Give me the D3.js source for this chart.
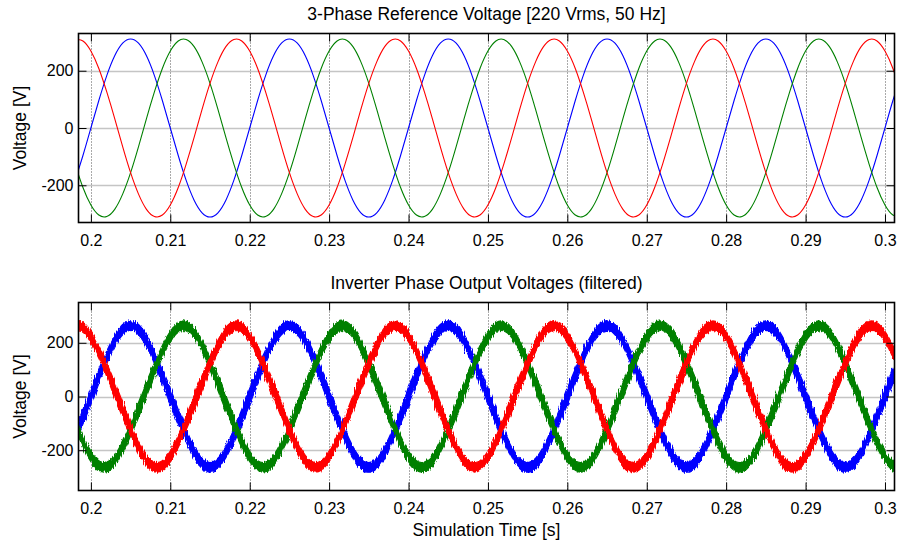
<!DOCTYPE html>
<html>
<head>
<meta charset="utf-8">
<script src="https://cdn.jsdelivr.net/npm/d3@7"></script>
<style>
  html, body { margin: 0; padding: 0; background: #fff; }
  svg { display: block; }
  text { font-family: "Liberation Sans", Arial, Helvetica, sans-serif; fill: #000; }
</style>
</head>
<body>
<svg id="chart" width="900" height="544"></svg>
<script>
// Sampling grid of the simulation traces (seconds)
const sampleStart = 0.198;
const sampleStep = 0.001;

// Axis ticks
const timeTicks = [0.2, 0.21, 0.22, 0.23, 0.24, 0.25, 0.26, 0.27, 0.28, 0.29, 0.3];
const voltTicks = [-200, 0, 200];

// Panel titles and labels
const panelTitles = ["3-Phase Reference Voltage [220 Vrms, 50 Hz]", "Inverter Phase Output Voltages (filtered)"];
const yLabel = "Voltage [V]";
const xLabel = "Simulation Time [s]";

// Reference voltages, phases a (blue), b (green), c (red) [V]
const refA = [
  -183,-96,0,96,183,252,296,311,296,252,183,96,0,-96,-183,-252,-296,-311,-296,-252,
  -183,-96,0,96,183,252,296,311,296,252,183,96,0,-96,-183,-252,-296,-311,-296,-252,
  -183,-96,0,96,183,252,296,311,296,252,183,96,0,-96,-183,-252,-296,-311,-296,-252,
  -183,-96,0,96,183,252,296,311,296,252,183,96,0,-96,-183,-252,-296,-311,-296,-252,
  -183,-96,0,96,183,252,296,311,296,252,183,96,0,-96,-183,-252,-296,-311,-296,-252,
  -183,-96,0,96,183];
const refB = [
  -126,-208,-269,-304,-309,-284,-231,-156,-65,33,126,208,269,304,309,284,231,156,65,-33,
  -126,-208,-269,-304,-309,-284,-231,-156,-65,33,126,208,269,304,309,284,231,156,65,-33,
  -126,-208,-269,-304,-309,-284,-231,-156,-65,33,126,208,269,304,309,284,231,156,65,-33,
  -126,-208,-269,-304,-309,-284,-231,-156,-65,33,126,208,269,304,309,284,231,156,65,-33,
  -126,-208,-269,-304,-309,-284,-231,-156,-65,33,126,208,269,304,309,284,231,156,65,-33,
  -126,-208,-269,-304,-309];
const refC = [
  309,304,269,208,126,33,-65,-156,-231,-284,-309,-304,-269,-208,-126,-33,65,156,231,284,
  309,304,269,208,126,33,-65,-156,-231,-284,-309,-304,-269,-208,-126,-33,65,156,231,284,
  309,304,269,208,126,33,-65,-156,-231,-284,-309,-304,-269,-208,-126,-33,65,156,231,284,
  309,304,269,208,126,33,-65,-156,-231,-284,-309,-304,-269,-208,-126,-33,65,156,231,284,
  309,304,269,208,126,33,-65,-156,-231,-284,-309,-304,-269,-208,-126,-33,65,156,231,284,
  309,304,269,208,126];

// Filtered inverter output, mean level of each phase [V]
const invA = [
  -146,-75,0,75,146,207,249,264,249,207,146,75,0,-75,-146,-207,-249,-264,-249,-207,
  -146,-75,0,75,146,207,249,264,249,207,146,75,0,-75,-146,-207,-249,-264,-249,-207,
  -146,-75,0,75,146,207,249,264,249,207,146,75,0,-75,-146,-207,-249,-264,-249,-207,
  -146,-75,0,75,146,207,249,264,249,207,146,75,0,-75,-146,-207,-249,-264,-249,-207,
  -146,-75,0,75,146,207,249,264,249,207,146,75,0,-75,-146,-207,-249,-264,-249,-207,
  -146,-75,0,75,146];
const invB = [
  -99,-168,-223,-257,-262,-238,-188,-123,-50,25,99,168,223,257,262,238,188,123,50,-25,
  -99,-168,-223,-257,-262,-238,-188,-123,-50,25,99,168,223,257,262,238,188,123,50,-25,
  -99,-168,-223,-257,-262,-238,-188,-123,-50,25,99,168,223,257,262,238,188,123,50,-25,
  -99,-168,-223,-257,-262,-238,-188,-123,-50,25,99,168,223,257,262,238,188,123,50,-25,
  -99,-168,-223,-257,-262,-238,-188,-123,-50,25,99,168,223,257,262,238,188,123,50,-25,
  -99,-168,-223,-257,-262];
const invC = [
  262,257,223,168,99,25,-50,-123,-188,-238,-262,-257,-223,-168,-99,-25,50,123,188,238,
  262,257,223,168,99,25,-50,-123,-188,-238,-262,-257,-223,-168,-99,-25,50,123,188,238,
  262,257,223,168,99,25,-50,-123,-188,-238,-262,-257,-223,-168,-99,-25,50,123,188,238,
  262,257,223,168,99,25,-50,-123,-188,-238,-262,-257,-223,-168,-99,-25,50,123,188,238,
  262,257,223,168,99,25,-50,-123,-188,-238,-262,-257,-223,-168,-99,-25,50,123,188,238,
  262,257,223,168,99];

// Switching ripple half-width around each mean level [V]
const rippleA = [
  23,27,30,27,23,21,19,18,19,21,23,27,30,27,23,21,19,18,19,21,
  23,27,30,27,23,21,19,18,19,21,23,27,30,27,23,21,19,18,19,21,
  23,27,30,27,23,21,19,18,19,21,23,27,30,27,23,21,19,18,19,21,
  23,27,30,27,23,21,19,18,19,21,23,27,30,27,23,21,19,18,19,21,
  23,27,30,27,23,21,19,18,19,21,23,27,30,27,23,21,19,18,19,21,
  23,27,30,27,23];
const rippleB = [
  25,22,20,18,18,19,21,24,28,29,25,22,20,18,18,19,21,24,28,29,
  25,22,20,18,18,19,21,24,28,29,25,22,20,18,18,19,21,24,28,29,
  25,22,20,18,18,19,21,24,28,29,25,22,20,18,18,19,21,24,28,29,
  25,22,20,18,18,19,21,24,28,29,25,22,20,18,18,19,21,24,28,29,
  25,22,20,18,18,19,21,24,28,29,25,22,20,18,18,19,21,24,28,29,
  25,22,20,18,18];
const rippleC = [
  18,18,20,22,25,29,28,24,21,19,18,18,20,22,25,29,28,24,21,19,
  18,18,20,22,25,29,28,24,21,19,18,18,20,22,25,29,28,24,21,19,
  18,18,20,22,25,29,28,24,21,19,18,18,20,22,25,29,28,24,21,19,
  18,18,20,22,25,29,28,24,21,19,18,18,20,22,25,29,28,24,21,19,
  18,18,20,22,25,29,28,24,21,19,18,18,20,22,25,29,28,24,21,19,
  18,18,20,22,25];

const phaseColors = { a: "#0000ff", b: "#008000", c: "#ff0000" };

// Panel layout
const plotLeft = 78.5, plotRight = 894.5;
const panels = [
  { top: 33.5, bottom: 222.5, yMax: 330, title: panelTitles[0], titleY: 20 },
  { top: 302.5, bottom: 490.5, yMax: 350, title: panelTitles[1], titleY: 289 }
];
const labelSize = "17.5px";
const tickSize = "16px";

const svg = d3.select("#chart");
const x = d3.scaleLinear().domain([0.19844, 0.3012]).range([plotLeft, plotRight]);
const timeAt = i => sampleStart + i * sampleStep;
const fmtTime = d => String(+d.toFixed(2));
const fmtVolt = d => String(d);

// Rough, noisy edge for the switching ripple bands
const defs = svg.append("defs");
const rough = defs.append("filter").attr("id", "ripple-noise")
  .attr("x", "-2%").attr("y", "-5%").attr("width", "104%").attr("height", "110%");
rough.append("feTurbulence").attr("type", "fractalNoise")
  .attr("baseFrequency", "0.9 0.08").attr("numOctaves", 2).attr("seed", 3).attr("result", "n");
rough.append("feDisplacementMap").attr("in", "SourceGraphic").attr("in2", "n")
  .attr("scale", 5).attr("xChannelSelector", "R").attr("yChannelSelector", "G");

panels.forEach((p, pi) => {
  const y = d3.scaleLinear().domain([-p.yMax, p.yMax]).range([p.bottom, p.top]);
  const g = svg.append("g");

  defs.append("clipPath").attr("id", "clip" + pi)
    .append("rect").attr("x", plotLeft).attr("y", p.top)
    .attr("width", plotRight - plotLeft).attr("height", p.bottom - p.top);

  // Dotted grid
  g.append("g").selectAll("line").data(timeTicks).join("line")
    .attr("x1", d => Math.round(x(d)) + 0.5).attr("x2", d => Math.round(x(d)) + 0.5)
    .attr("y1", p.top).attr("y2", p.bottom)
    .attr("stroke", "#555").attr("stroke-width", 1).attr("stroke-dasharray", "1,2");
  g.append("g").selectAll("line").data(voltTicks).join("line")
    .attr("x1", plotLeft).attr("x2", plotRight)
    .attr("y1", d => Math.round(y(d)) + 0.5).attr("y2", d => Math.round(y(d)) + 0.5)
    .attr("stroke", "#8a8a8a").attr("stroke-width", 1.3).attr("stroke-dasharray", "1,1");

  const traces = g.append("g").attr("clip-path", `url(#clip${pi})`);
  const series = pi === 0
    ? [{ v: refA, c: phaseColors.a }, { v: refB, c: phaseColors.b }, { v: refC, c: phaseColors.c }]
    : [{ v: invA, r: rippleA, c: phaseColors.a }, { v: invB, r: rippleB, c: phaseColors.b }, { v: invC, r: rippleC, c: phaseColors.c }];

  series.forEach(s => {
    if (pi === 0) {
      const line = d3.line().x((d, i) => x(timeAt(i))).y(d => y(d)).curve(d3.curveNatural);
      traces.append("path").attr("d", line(s.v))
        .attr("fill", "none").attr("stroke", s.c).attr("stroke-width", 1.1);
    } else {
      const area = d3.area()
        .x((d, i) => x(timeAt(i)))
        .y0((d, i) => y(d - s.r[i]))
        .y1((d, i) => y(d + s.r[i]))
        .curve(d3.curveNatural);
      traces.append("path").attr("d", area(s.v))
        .attr("fill", s.c).attr("stroke", s.c).attr("stroke-width", 1.2)
        .attr("filter", "url(#ripple-noise)");
    }
  });

  // Axes with inward ticks on all four sides
  const axB = g.append("g").attr("transform", `translate(0,${p.bottom})`)
    .call(d3.axisBottom(x).tickValues(timeTicks).tickFormat(fmtTime).tickSizeInner(-8).tickSizeOuter(0).tickPadding(12));
  const axT = g.append("g").attr("transform", `translate(0,${p.top})`)
    .call(d3.axisTop(x).tickValues(timeTicks).tickFormat("").tickSizeInner(-8).tickSizeOuter(0));
  const axL = g.append("g").attr("transform", `translate(${plotLeft},0)`)
    .call(d3.axisLeft(y).tickValues(voltTicks).tickFormat(fmtVolt).tickSizeInner(-8).tickSizeOuter(0).tickPadding(5));
  const axR = g.append("g").attr("transform", `translate(${plotRight},0)`)
    .call(d3.axisRight(y).tickValues(voltTicks).tickFormat("").tickSizeInner(-8).tickSizeOuter(0));
  [axB, axT, axL, axR].forEach(a => {
    a.select(".domain").remove();
    a.selectAll(".tick line").attr("stroke", "#000").attr("stroke-width", 1);
    a.selectAll("text").style("font-size", tickSize).attr("font-family", null);
  });

  // Frame
  g.append("rect").attr("x", plotLeft).attr("y", p.top)
    .attr("width", plotRight - plotLeft).attr("height", p.bottom - p.top)
    .attr("fill", "none").attr("stroke", "#000").attr("stroke-width", 1.6);

  // Titles and labels
  g.append("text").attr("x", (plotLeft + plotRight) / 2).attr("y", p.titleY)
    .attr("text-anchor", "middle").style("font-size", labelSize).text(p.title);
  g.append("text")
    .attr("transform", `translate(25.5,${(p.top + p.bottom) / 2}) rotate(-90)`)
    .attr("text-anchor", "middle").style("font-size", labelSize).text(yLabel);
});

svg.append("text").attr("x", (plotLeft + plotRight) / 2).attr("y", 535.5)
  .attr("text-anchor", "middle").style("font-size", labelSize).text(xLabel);
</script>
</body>
</html>
